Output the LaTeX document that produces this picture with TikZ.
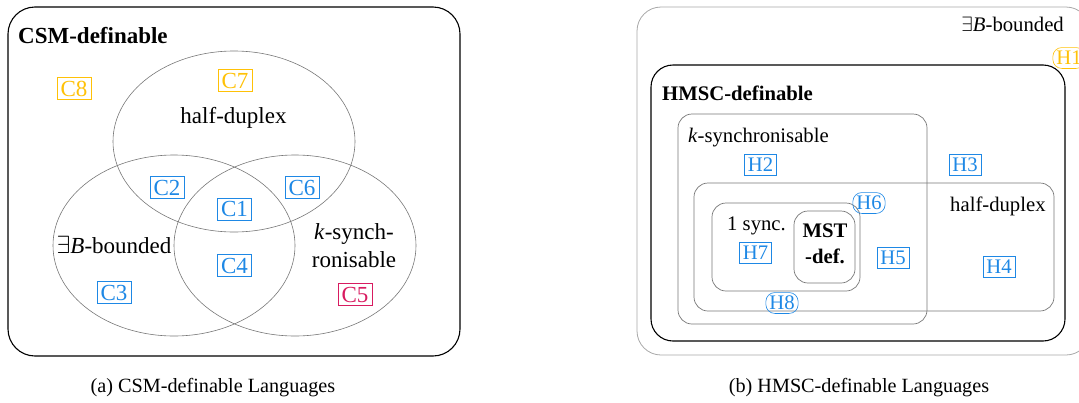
\documentclass[tikz,border=0pt]{standalone}
\usepackage{fontspec}
\setmainfont{Liberation Serif}
\definecolor{cblue}{HTML}{1E88E5}
\definecolor{camber}{HTML}{FFC107}
\definecolor{ccrim}{HTML}{D81B60}
\definecolor{vgray}{HTML}{777777}
\definecolor{lgray}{HTML}{A8A8A8}
\begin{document}
\begin{tikzpicture}[x=1pt,y=-1pt,
  lab/.style={draw, line width=0.6pt, inner xsep=3.5pt, inner ysep=3.6pt, text depth=0pt},
  cl/.style={lab, font=\fontsize{23}{26}\selectfont, text height=15.2pt},
  hl/.style={lab, font=\fontsize{20.7}{24}\selectfont, text height=13.7pt},
  pill/.style={rounded corners=9pt},
  ltxt/.style={font=\fontsize{23}{28}\selectfont, inner sep=0pt},
  rtxt/.style={font=\fontsize{20.7}{26}\selectfont, inner sep=0pt},
  venn/.style={draw=vgray, line width=0.6pt},
  outerbox/.style={draw=black, line width=1.1pt},
  setbox/.style={draw=vgray, line width=0.7pt, rounded corners=14pt},
  capt/.style={font=\fontsize{20.2}{24}\selectfont, inner sep=0pt, anchor=base}
]
\useasboundingbox (0,0) rectangle (1079,402);
\clip (0,0) rectangle (1079,402);

% ---------- (a) ----------
\draw[outerbox, rounded corners=27pt] (8,7) rectangle (460,356);
\node[ltxt, anchor=base west, font=\fontsize{23}{28}\selectfont\bfseries] (csm) at (18,43) {CSM-definable};

\draw[venn] (234,141.5) ellipse [x radius=121pt, y radius=90.5pt];
\draw[venn] (174,245.5) ellipse [x radius=121pt, y radius=90.5pt];
\draw[venn] (295,245.5) ellipse [x radius=121pt, y radius=90.5pt];

\node[ltxt, anchor=base] (hdl) at (233.5,123) {half-duplex};
\node[ltxt, anchor=base] (bbl) at (114,253) {$\exists$\textit{B}-bounded};
\node[ltxt, anchor=base] (ks1) at (354,239) {\textit{k}-synch-};
\node[ltxt, anchor=base] (ks2) at (354,267) {ronisable};

\node[cl, draw=camber, text=camber] (c8) at (74,88.5) {C8};
\node[cl, draw=camber, text=camber] (c7) at (235,80.5) {C7};
\node[cl, draw=cblue, text=cblue] (c2) at (167,187.5) {C2};
\node[cl, draw=cblue, text=cblue] (c6) at (302,187.5) {C6};
\node[cl, draw=cblue, text=cblue] (c1) at (234.5,209) {C1};
\node[cl, draw=cblue, text=cblue] (c4) at (234.5,265.5) {C4};
\node[cl, draw=cblue, text=cblue] (c3) at (114,292.5) {C3};
\node[cl, draw=ccrim, text=ccrim] (c5) at (355,294.5) {C5};

\node[capt] (capa) at (213,392) {(a) CSM-definable Languages};

% ---------- (b) ----------
\draw[draw=lgray, line width=0.8pt, rounded corners=24pt] (637,7) rectangle (1090,355);
\node[rtxt, anchor=base east] (bbr) at (1064,31) {$\exists$\textit{B}-bounded};
\node[hl, pill, draw=camber, text=camber] (h1) at (1069,58) {H1};

\draw[outerbox, rounded corners=22pt] (651,65) rectangle (1065,341);
\node[rtxt, anchor=base west, font=\fontsize{20.7}{26}\selectfont\bfseries] (hmsc) at (662,100) {HMSC-definable};

\draw[setbox] (678,114) rectangle (927,324);
\node[rtxt, anchor=base west] (ksr) at (688,142) {\textit{k}-synchronisable};

\draw[setbox] (694,183) rectangle (1054,311);
\node[rtxt, anchor=base west] (hdr) at (950,211) {half-duplex};

\draw[setbox] (712,203) rectangle (860,291);
\node[rtxt, anchor=base west] (s1) at (727,230) {1 sync.};

\draw[setbox] (794,211) rectangle (855,283);
\node[rtxt, align=center, font=\fontsize{20.7}{26}\selectfont\bfseries] (mst) at (825,244) {MST\\-def.};

\node[hl, draw=cblue, text=cblue] (h2) at (760.5,164.5) {H2};
\node[hl, draw=cblue, text=cblue] (h3) at (965,164.5) {H3};
\node[hl, pill, draw=cblue, text=cblue] (h6) at (869,203) {H6};
\node[hl, draw=cblue, text=cblue] (h7) at (755.5,253) {H7};
\node[hl, draw=cblue, text=cblue] (h5) at (893,258) {H5};
\node[hl, draw=cblue, text=cblue] (h4) at (999,267) {H4};
\node[hl, pill, draw=cblue, text=cblue] (h8) at (782,303) {H8};

\node[capt] (capb) at (859,392) {(b) HMSC-definable Languages};
\end{tikzpicture}
\end{document}
